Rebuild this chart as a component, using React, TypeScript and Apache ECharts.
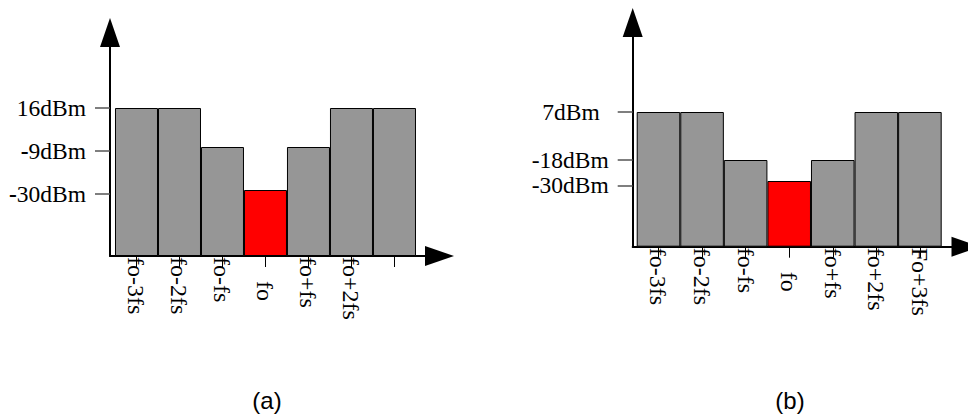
import React, { useEffect, useRef } from "react";
import * as echarts from "echarts";

// Chart (a)
const catsA = ["fo-3fs", "fo-2fs", "fo-fs", "fo", "fo+fs", "fo+2fs", ""];
const heightsA = [148, 148, 109, 66, 109, 148, 148]; // schematic bar heights
const colorsA = ["#969696", "#969696", "#969696", "#ff0000", "#969696", "#969696", "#969696"];
const levelsA = [62, 105, 148];
const levelLabelsA = ["-30dBm", "-9dBm", "16dBm"];

// Chart (b)
const catsB = ["fo-3fs", "fo-2fs", "fo-fs", "fo", "fo+fs", "fo+2fs", "Fo+3fs"];
const heightsB = [134.7, 134.7, 86.7, 65.7, 86.7, 134.7, 134.7];
const colorsB = ["#969696", "#969696", "#969696", "#ff0000", "#969696", "#969696", "#969696"];
const levelsB = [61.3, 86.7, 134.7];
const levelLabelsB = ["-30dBm", "-18dBm", "7dBm"];

const captions = ["(a)", "(b)"];

const SERIF = "'Liberation Serif', 'Times New Roman', serif";

function xAxisFor(grid: number, cats: string[], min: number, max: number) {
  const idx = cats.map((_, i) => i);
  return {
    gridIndex: grid,
    type: "value",
    min,
    max,
    axisLine: {
      show: true,
      onZero: false,
      lineStyle: { color: "#000", width: 2 },
      symbol: ["none", "triangle"],
      symbolSize: [20, 29],
    },
    axisTick: {
      show: true,
      customValues: idx,
      length: 11,
      lineStyle: { color: "#000", width: 1 },
    },
    axisLabel: {
      show: true,
      customValues: idx,
      rotate: -90,
      margin: 1,
      color: "#000",
      fontFamily: SERIF,
      fontSize: 24,
      formatter: (v: number) => {
        const t = cats[Math.round(v)];
        return t === "fo" ? "\u00a0\u00a0\u00a0\u00a0" + t : t;
      },
    },
    splitLine: { show: false },
  };
}

function yAxisFor(
  grid: number,
  max: number,
  levels: number[],
  labels: string[],
  boldMinus: boolean
) {
  return {
    gridIndex: grid,
    type: "value",
    min: 0,
    max,
    axisLine: {
      show: true,
      onZero: false,
      lineStyle: { color: "#000", width: 2 },
      symbol: ["none", "triangle"],
      symbolSize: [20, 29],
    },
    axisTick: {
      show: true,
      customValues: levels,
      length: 15,
      lineStyle: { color: "#555", width: 1.5 },
    },
    axisLabel: {
      show: true,
      customValues: levels,
      margin: 24,
      color: "#000",
      fontFamily: SERIF,
      fontSize: 23.5,
      rich: {
        m: { fontFamily: SERIF, fontSize: 23.5, fontWeight: "bold", color: "#000" },
        t: { fontFamily: SERIF, fontSize: 23.5, color: "#000" },
        p: { fontFamily: SERIF, fontSize: 23.5, color: "#000", padding: [0, 9, 0, 0] },
      },
      formatter: (v: number) => {
        let best = 0;
        levels.forEach((l, i) => {
          if (Math.abs(l - v) < Math.abs(levels[best] - v)) best = i;
        });
        const s = labels[best];
        if (boldMinus && s.startsWith("-")) return "{m|-}{t|" + s.slice(1) + "}";
        if (!boldMinus && !s.startsWith("-")) return "{p|" + s + "}";
        return "{t|" + s + "}";
      },
    },
    splitLine: { show: false },
  };
}

function barSeries(idx: number, cats: string[], heights: number[], colors: string[]) {
  return {
    type: "bar",
    xAxisIndex: idx,
    yAxisIndex: idx,
    barCategoryGap: "0%",
    barGap: "0%",
    itemStyle: { borderColor: "#000", borderWidth: 1 },
    data: cats.map((_, i) => ({
      value: [i, heights[i]],
      itemStyle: { color: colors[i], borderColor: "#000", borderWidth: 1 },
    })),
  };
}

export default function App() {
  const ref = useRef<HTMLDivElement>(null);
  useEffect(() => {
    if (!ref.current) return;
    const chart = echarts.init(ref.current, undefined, { renderer: "svg" });
    chart.setOption({
      animation: false,
      backgroundColor: "#fff",
      grid: [
        { left: 110, top: 32.5, width: 329.5, height: 223.5, containLabel: false },
        { left: 632.7, top: 22.5, width: 333.3, height: 224.2, containLabel: false },
      ],
      xAxis: [
        xAxisFor(0, catsA, -0.616, 7.047),
        xAxisFor(1, catsB, -0.592, 7.058),
      ],
      yAxis: [
        yAxisFor(0, 223.5, levelsA, levelLabelsA, true),
        yAxisFor(1, 224.2, levelsB, levelLabelsB, false),
      ],
      series: [
        barSeries(0, catsA, heightsA, colorsA),
        barSeries(1, catsB, heightsB, colorsB),
      ],
      graphic: [
        {
          type: "text",
          x: 267,
          y: 400,
          style: {
            text: captions[0],
            font: "24px 'Liberation Sans', Arial, sans-serif",
            fill: "#000",
            align: "center",
            verticalAlign: "middle",
          },
        },
        {
          type: "text",
          x: 790,
          y: 400,
          style: {
            text: captions[1],
            font: "24px 'Liberation Sans', Arial, sans-serif",
            fill: "#000",
            align: "center",
            verticalAlign: "middle",
          },
        },
      ],
    });
    return () => chart.dispose();
  }, []);
  return (
    <div
      ref={ref}
      style={{ position: "fixed", left: 0, top: 0, width: 968, height: 419, background: "#fff" }}
    />
  );
}
